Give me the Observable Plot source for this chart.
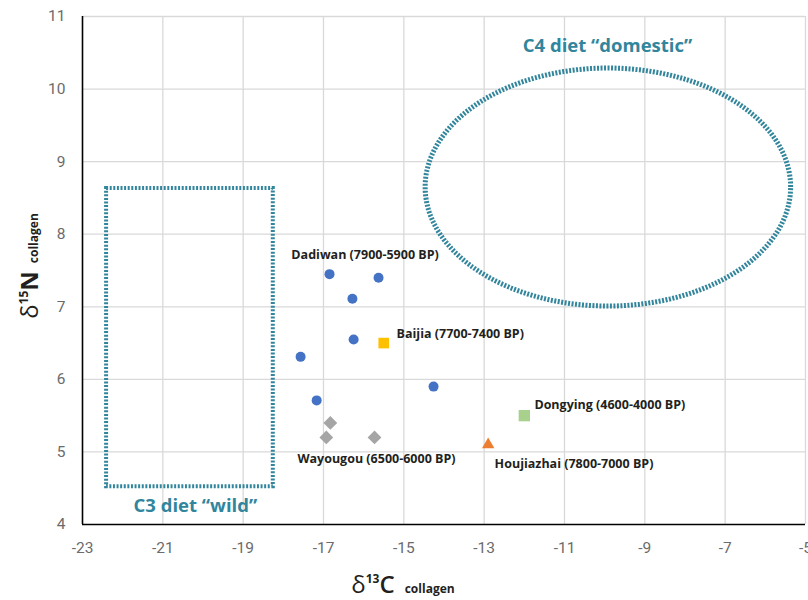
<!DOCTYPE html>
<html><head><meta charset="utf-8">
<script src="https://cdn.jsdelivr.net/npm/d3@7"></script>
<script src="https://cdn.jsdelivr.net/npm/@observablehq/plot@0.6"></script>
<style>body{margin:0;background:#fff}#chart{width:808px;height:600px}</style>
</head><body><div id="chart"></div>
<script>
// ---- data ----
const xTicks = [-23, -21, -19, -17, -15, -13, -11, -9, -7, -5];
const yTicks = [4, 5, 6, 7, 8, 9, 10, 11];

const dadiwanX = [-16.85, -15.63, -16.28, -16.25, -17.57, -17.17, -14.26];
const dadiwanY = [7.45, 7.40, 7.11, 6.55, 6.31, 5.71, 5.90];
const baijiaX = [-15.5];
const baijiaY = [6.5];
const wayougouX = [-16.83, -16.93, -15.73];
const wayougouY = [5.4, 5.2, 5.2];
const houjiazhaiX = [-12.9];
const houjiazhaiY = [5.1];
const dongyingX = [-12.0];
const dongyingY = [5.5];

const siteLabels = ["Dadiwan (7900-5900 BP)", "Baijia (7700-7400 BP)", "Wayougou (6500-6000 BP)", "Houjiazhai (7800-7000 BP)", "Dongying (4600-4000 BP)"];
const siteLabelX = [-17.8, -15.18, -17.65, -12.74, -11.75];
const siteLabelY = [7.71, 6.63, 4.90, 4.83, 5.65];

const zoneLabels = ["C4 diet \u201cdomestic\u201d", "C3 diet \u201cwild\u201d"];
const zoneLabelX = [-9.93, -20.19];
const zoneLabelY = [10.59, 4.25];

// C3 "wild" box
const c3X1 = [-22.4], c3X2 = [-18.25], c3Y1 = [4.52], c3Y2 = [8.63];
// C4 "domestic" ellipse: centre and radii
const c4CX = [-9.92], c4CY = [8.65], c4RX = [4.55], c4RY = [1.64];

// ---- build ----
const pts = (xs, ys) => xs.map((x, i) => ({x, y: ys[i]}));
const labels = siteLabels.map((t, i) => ({t, x: siteLabelX[i], y: siteLabelY[i]}));
const zones = zoneLabels.map((t, i) => ({t, x: zoneLabelX[i], y: zoneLabelY[i]}));
const rectData = [{x1: c3X1[0], x2: c3X2[0], y1: c3Y1[0], y2: c3Y2[0]}];
const ellipse = d3.range(0, 361, 2).map(a => {
  const r = a * Math.PI / 180;
  return {x: c4CX[0] + c4RX[0] * Math.cos(r), y: c4CY[0] + c4RY[0] * Math.sin(r)};
});

const teal = "#31859c";
const dash = "2,1.6";

const plot = Plot.plot({
  width: 808,
  height: 600,
  marginLeft: 82,
  marginRight: 3,
  marginTop: 16,
  marginBottom: 76,
  style: {fontFamily: "Roboto, sans-serif", fontSize: "15.5px", color: "#6b6b6b", background: "#fff", overflow: "visible"},
  x: {domain: [-23, -5], ticks: xTicks, tickSize: 0, tickPadding: 17, label: null, tickFormat: d => String(d)},
  y: {domain: [4, 11], ticks: yTicks, tickSize: 0, tickPadding: 17, label: null, tickFormat: d => String(d)},
  marks: [
    Plot.ruleX(xTicks.slice(1), {stroke: "#d9d9d9", strokeWidth: 1.3}),
    Plot.ruleY(yTicks.slice(1), {stroke: "#d9d9d9", strokeWidth: 1.3}),
    Plot.ruleX([-23], {stroke: "#000", strokeWidth: 1.6}),
    Plot.ruleY([4], {stroke: "#000", strokeWidth: 1.6}),
    Plot.rect(rectData, {x1: "x1", x2: "x2", y1: "y1", y2: "y2", fill: "none", stroke: teal, strokeWidth: 4, strokeDasharray: dash}),
    Plot.line(ellipse, {x: "x", y: "y", stroke: teal, strokeWidth: 5, strokeDasharray: "2,1.5", strokeLinecap: "butt", strokeLinejoin: "miter", curve: "linear"}),
    Plot.dot(pts(dadiwanX, dadiwanY), {x: "x", y: "y", r: 5, fill: "#4472c4", symbol: "circle"}),
    Plot.dot(pts(baijiaX, baijiaY), {x: "x", y: "y", r: 6, fill: "#ffc000", symbol: "square"}),
    Plot.dot(pts(wayougouX, wayougouY), {x: "x", y: "y", r: 6.2, fill: "#a5a5a5", symbol: "diamond2"}),
    Plot.dot(pts(houjiazhaiX, houjiazhaiY), {x: "x", y: "y", r: 4.6, fill: "#ed7d31", symbol: "triangle"}),
    Plot.dot(pts(dongyingX, dongyingY), {x: "x", y: "y", r: 6.4, fill: "#a9d18e", symbol: "square"}),
    Plot.text(labels, {x: "x", y: "y", text: "t", textAnchor: "start", fill: "#231f20", fontSize: 12.5, fontWeight: "bold", fontFamily: "Open Sans, sans-serif"}),
    Plot.text(zones, {x: "x", y: "y", text: "t", textAnchor: "middle", fill: teal, fontSize: 18.5, fontWeight: "bold", fontFamily: "Open Sans, sans-serif"})
  ]
});

document.getElementById("chart").appendChild(plot);

// axis titles with super/subscripts
const svg = d3.select(plot);
const xt = svg.append("text")
  .attr("x", 403).attr("y", 593)
  .attr("text-anchor", "middle")
  .attr("fill", "#231f20")
  .style("font-family", "Open Sans, sans-serif");
xt.append("tspan").attr("font-size", 24).text("\u03b4");
xt.append("tspan").attr("font-size", 12).attr("font-weight", "bold").attr("dy", -10).text("13");
xt.append("tspan").attr("font-size", 24).attr("font-weight", 600).attr("dy", 10).text("C");
xt.append("tspan").attr("font-size", 12).attr("font-weight", "bold").attr("dx", 10).text("collagen");

const yt = svg.append("text")
  .attr("transform", "translate(38,266) rotate(-90)")
  .attr("text-anchor", "middle")
  .attr("fill", "#231f20")
  .style("font-family", "Open Sans, sans-serif");
yt.append("tspan").attr("font-size", 24).text("\u03b4");
yt.append("tspan").attr("font-size", 12).attr("font-weight", "bold").attr("dy", -10).text("15");
yt.append("tspan").attr("font-size", 24).attr("font-weight", "bold").attr("dy", 10).text("N");
yt.append("tspan").attr("font-size", 12).attr("font-weight", "bold").attr("dx", 8).text("collagen");
</script>
</body></html>
